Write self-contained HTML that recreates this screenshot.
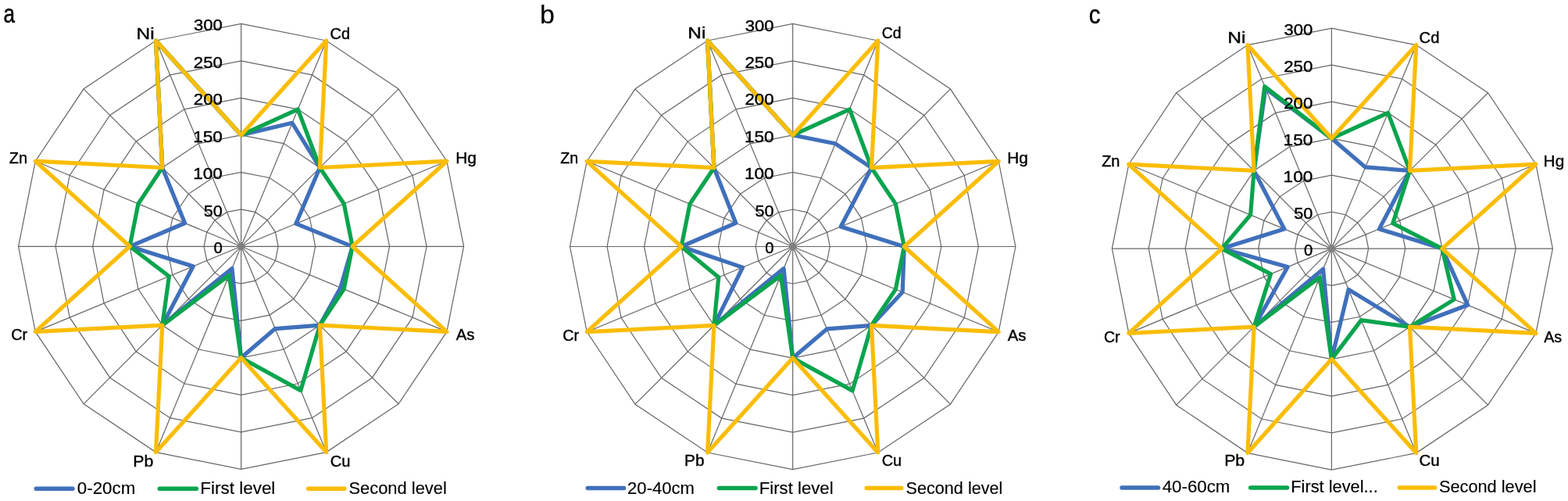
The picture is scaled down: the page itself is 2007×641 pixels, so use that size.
<!DOCTYPE html>
<html><head><meta charset="utf-8"><title>Radar charts</title>
<style>
html,body{margin:0;padding:0;background:#fff;}
body{width:2007px;height:641px;overflow:hidden;}
svg{display:block;}
text{font-family:"Liberation Sans",sans-serif;fill:#000;}
.t{stroke:#000;stroke-width:0.4px;}
.L{stroke:#000;stroke-width:0.5px;}
.M{stroke:#000;stroke-width:0.2px;}
.lg{stroke:#000;stroke-width:0.15px;}
.g{fill:none;stroke:#666666;stroke-width:1.2;}
.s{fill:none;stroke-width:5.2;stroke-linejoin:round;stroke-linecap:round;}
</style></head><body>
<svg width="2007" height="641" viewBox="0 0 2007 641">
<rect width="2007" height="641" fill="#fff"/>

<g>
<polygon class="g" points="308.6,267.8 326.8,271.4 342.2,281.7 352.5,297.1 356.1,315.3 352.5,333.5 342.2,348.9 326.8,359.2 308.6,362.8 290.4,359.2 275.0,348.9 264.7,333.5 261.1,315.3 264.7,297.1 275.0,281.7 290.4,271.4"/>
<polygon class="g" points="308.6,220.3 345.0,227.5 375.8,248.1 396.4,278.9 403.6,315.3 396.4,351.7 375.8,382.5 345.0,403.1 308.6,410.3 272.2,403.1 241.4,382.5 220.8,351.7 213.6,315.3 220.8,278.9 241.4,248.1 272.2,227.5"/>
<polygon class="g" points="308.6,172.8 363.1,183.6 409.4,214.5 440.3,260.8 451.1,315.3 440.3,369.8 409.4,416.1 363.1,447.0 308.6,457.8 254.1,447.0 207.8,416.1 176.9,369.8 166.1,315.3 176.9,260.8 207.8,214.5 254.1,183.6"/>
<polygon class="g" points="308.6,125.3 381.3,139.8 443.0,180.9 484.1,242.6 498.6,315.3 484.1,388.0 443.0,449.7 381.3,490.8 308.6,505.3 235.9,490.8 174.2,449.7 133.1,388.0 118.6,315.3 133.1,242.6 174.2,180.9 235.9,139.8"/>
<polygon class="g" points="308.6,77.8 399.5,95.9 476.5,147.4 528.0,224.4 546.1,315.3 528.0,406.2 476.5,483.2 399.5,534.7 308.6,552.8 217.7,534.7 140.7,483.2 89.2,406.2 71.1,315.3 89.2,224.4 140.7,147.4 217.7,95.9"/>
<polygon class="g" points="308.6,30.3 417.7,52.0 510.1,113.8 571.9,206.2 593.6,315.3 571.9,424.4 510.1,516.8 417.7,578.6 308.6,600.3 199.5,578.6 107.1,516.8 45.3,424.4 23.6,315.3 45.3,206.2 107.1,113.8 199.5,52.0"/>
<path class="g" d="M308.6 315.3L308.6 30.3M308.6 315.3L417.7 52.0M308.6 315.3L510.1 113.8M308.6 315.3L571.9 206.2M308.6 315.3L593.6 315.3M308.6 315.3L571.9 424.4M308.6 315.3L510.1 516.8M308.6 315.3L417.7 578.6M308.6 315.3L308.6 600.3M308.6 315.3L199.5 578.6M308.6 315.3L107.1 516.8M308.6 315.3L45.3 424.4M308.6 315.3L23.6 315.3M308.6 315.3L45.3 206.2M308.6 315.3L107.1 113.8M308.6 315.3L199.5 52.0"/>
<path d="M302.6 315.3L308.6 309.3L314.6 315.3L308.6 321.3Z" fill="#808080"/>
<polygon class="s" stroke="#4070BB" points="308.6,172.8 374.0,157.3 409.4,214.5 378.8,286.2 451.1,315.3 435.9,368.0 409.4,416.1 352.2,420.6 308.6,457.8 297.0,343.4 207.8,416.1 247.2,340.7 166.1,315.3 236.6,285.5 207.8,214.5 199.5,52.0"/>
<polygon class="s" stroke="#0AA44E" points="308.6,172.8 381.3,139.8 409.4,214.5 440.3,260.8 451.1,315.3 440.3,369.8 409.4,416.1 384.9,499.6 308.6,457.8 293.3,352.2 207.8,416.1 216.4,353.5 166.1,315.3 176.9,260.8 207.8,214.5 199.5,52.0"/>
<polygon class="s" stroke="#FABD06" points="308.6,172.8 417.7,52.0 409.4,214.5 571.9,206.2 451.1,315.3 571.9,424.4 409.4,416.1 417.7,578.6 308.6,457.8 199.5,578.6 207.8,416.1 45.3,424.4 166.1,315.3 45.3,206.2 207.8,214.5 199.5,52.0"/>
<text class="t" transform="translate(273.51 324.00) scale(0.9996 1)" font-size="20.3">0</text>
<text class="t" transform="translate(260.73 276.55) scale(1.0680 1)" font-size="20.3">50</text>
<text class="t" transform="translate(247.18 229.10) scale(1.1132 1)" font-size="20.3">100</text>
<text class="t" transform="translate(247.18 181.65) scale(1.1132 1)" font-size="20.3">150</text>
<text class="t" transform="translate(247.78 134.20) scale(1.0950 1)" font-size="20.3">200</text>
<text class="t" transform="translate(247.78 86.75) scale(1.0950 1)" font-size="20.3">250</text>
<text class="t" transform="translate(248.06 39.30) scale(1.0866 1)" font-size="20.3">300</text>
<text class="t" transform="translate(422.59 49.70) scale(0.9683 1)" font-size="20.6">Cd</text>
<text class="t" transform="translate(583.18 209.20) scale(1.0165 1)" font-size="20.6">Hg</text>
<text class="t" transform="translate(583.66 435.40) scale(0.9890 1)" font-size="20.6">As</text>
<text class="t" transform="translate(422.68 596.80) scale(0.9783 1)" font-size="20.6">Cu</text>
<text class="t" transform="translate(170.35 596.80) scale(1.0335 1)" font-size="20.6">Pb</text>
<text class="t" transform="translate(14.29 435.40) scale(0.9632 1)" font-size="20.6">Cr</text>
<text class="t" transform="translate(11.77 209.00) scale(0.9706 1)" font-size="20.6">Zn</text>
<text class="t" transform="translate(174.60 49.60) scale(1.1847 1)" font-size="20.6">Ni</text>
<line x1="46.2" y1="625.2" x2="93.0" y2="625.2" stroke-width="5.5" stroke-linecap="round" stroke="#4070BB"/>
<text class="lg" transform="translate(98.83 631.60) scale(1.0336 1)" font-size="21.6">0-20cm</text>
<line x1="204.3" y1="625.2" x2="251.4" y2="625.2" stroke-width="5.5" stroke-linecap="round" stroke="#0AA44E"/>
<text class="lg" transform="translate(256.36 631.60) scale(1.0393 1)" font-size="21.6">First level</text>
<line x1="394.6" y1="625.2" x2="440.8" y2="625.2" stroke-width="5.5" stroke-linecap="round" stroke="#FABD06"/>
<text class="lg" transform="translate(446.41 631.60) scale(1.0144 1)" font-size="21.6">Second level</text>
<text class="L" transform="translate(4.59 29.40) scale(0.8027 1)" font-size="32.5">a</text>
</g>
<g>
<polygon class="g" points="1014.7,268.0 1032.9,271.6 1048.3,281.9 1058.6,297.3 1062.2,315.5 1058.6,333.7 1048.3,349.1 1032.9,359.4 1014.7,363.0 996.5,359.4 981.1,349.1 970.8,333.7 967.2,315.5 970.8,297.3 981.1,281.9 996.5,271.6"/>
<polygon class="g" points="1014.7,220.4 1051.1,227.7 1081.9,248.3 1102.5,279.1 1109.8,315.5 1102.5,351.9 1081.9,382.7 1051.1,403.3 1014.7,410.6 978.3,403.3 947.5,382.7 926.9,351.9 919.6,315.5 926.9,279.1 947.5,248.3 978.3,227.7"/>
<polygon class="g" points="1014.7,172.9 1069.3,183.8 1115.5,214.7 1146.4,260.9 1157.3,315.5 1146.4,370.1 1115.5,416.3 1069.3,447.2 1014.7,458.1 960.1,447.2 913.9,416.3 883.0,370.1 872.1,315.5 883.0,260.9 913.9,214.7 960.1,183.8"/>
<polygon class="g" points="1014.7,125.4 1087.5,139.8 1149.1,181.1 1190.4,242.7 1204.8,315.5 1190.4,388.3 1149.1,449.9 1087.5,491.2 1014.7,505.6 941.9,491.2 880.3,449.9 839.0,388.3 824.6,315.5 839.0,242.7 880.3,181.1 941.9,139.8"/>
<polygon class="g" points="1014.7,77.8 1105.7,95.9 1182.8,147.4 1234.3,224.5 1252.4,315.5 1234.3,406.5 1182.8,483.6 1105.7,535.1 1014.7,553.2 923.7,535.1 846.6,483.6 795.1,406.5 777.0,315.5 795.1,224.5 846.6,147.4 923.7,95.9"/>
<polygon class="g" points="1014.7,30.3 1123.8,52.0 1216.4,113.8 1278.2,206.4 1299.9,315.5 1278.2,424.6 1216.4,517.2 1123.8,579.0 1014.7,600.7 905.6,579.0 813.0,517.2 751.2,424.6 729.5,315.5 751.2,206.4 813.0,113.8 905.6,52.0"/>
<path class="g" d="M1014.7 315.5L1014.7 30.3M1014.7 315.5L1123.8 52.0M1014.7 315.5L1216.4 113.8M1014.7 315.5L1278.2 206.4M1014.7 315.5L1299.9 315.5M1014.7 315.5L1278.2 424.6M1014.7 315.5L1216.4 517.2M1014.7 315.5L1123.8 579.0M1014.7 315.5L1014.7 600.7M1014.7 315.5L905.6 579.0M1014.7 315.5L813.0 517.2M1014.7 315.5L751.2 424.6M1014.7 315.5L729.5 315.5M1014.7 315.5L751.2 206.4M1014.7 315.5L813.0 113.8M1014.7 315.5L905.6 52.0"/>
<path d="M1008.7 315.5L1014.7 309.5L1020.7 315.5L1014.7 321.5Z" fill="#808080"/>
<polygon class="s" stroke="#4070BB" points="1014.7,172.9 1069.3,183.8 1115.5,214.7 1076.2,290.0 1157.3,315.5 1155.2,373.7 1115.5,416.3 1058.4,420.9 1014.7,458.1 1003.1,343.6 913.9,416.3 950.6,342.1 872.1,315.5 941.8,285.3 913.9,214.7 905.6,52.0"/>
<polygon class="s" stroke="#0AA44E" points="1014.7,172.9 1087.5,139.8 1115.5,214.7 1146.4,260.9 1157.3,315.5 1146.4,370.1 1115.5,416.3 1091.1,499.9 1014.7,458.1 999.4,352.4 913.9,416.3 919.8,354.8 872.1,315.5 883.0,260.9 913.9,214.7 905.6,52.0"/>
<polygon class="s" stroke="#FABD06" points="1014.7,172.9 1123.8,52.0 1115.5,214.7 1278.2,206.4 1157.3,315.5 1278.2,424.6 1115.5,416.3 1123.8,579.0 1014.7,458.1 905.6,579.0 913.9,416.3 751.2,424.6 872.1,315.5 751.2,206.4 913.9,214.7 905.6,52.0"/>
<text class="t" transform="translate(979.21 324.20) scale(0.9996 1)" font-size="20.3">0</text>
<text class="t" transform="translate(966.43 276.75) scale(1.0680 1)" font-size="20.3">50</text>
<text class="t" transform="translate(952.88 229.30) scale(1.1132 1)" font-size="20.3">100</text>
<text class="t" transform="translate(952.88 181.85) scale(1.1132 1)" font-size="20.3">150</text>
<text class="t" transform="translate(953.48 134.40) scale(1.0950 1)" font-size="20.3">200</text>
<text class="t" transform="translate(953.48 86.95) scale(1.0950 1)" font-size="20.3">250</text>
<text class="t" transform="translate(953.76 39.50) scale(1.0866 1)" font-size="20.3">300</text>
<text class="t" transform="translate(1128.76 48.50) scale(0.9453 1)" font-size="20.6">Cd</text>
<text class="t" transform="translate(1289.18 209.20) scale(1.0165 1)" font-size="20.6">Hg</text>
<text class="t" transform="translate(1289.66 435.60) scale(0.9890 1)" font-size="20.6">As</text>
<text class="t" transform="translate(1128.69 596.00) scale(0.9699 1)" font-size="20.6">Cu</text>
<text class="t" transform="translate(875.99 596.00) scale(1.0114 1)" font-size="20.6">Pb</text>
<text class="t" transform="translate(720.29 435.60) scale(0.9632 1)" font-size="20.6">Cr</text>
<text class="t" transform="translate(717.28 209.00) scale(0.9524 1)" font-size="20.6">Zn</text>
<text class="t" transform="translate(880.30 48.50) scale(1.1847 1)" font-size="20.6">Ni</text>
<line x1="752.2" y1="624.5" x2="798.5" y2="624.5" stroke-width="5.5" stroke-linecap="round" stroke="#4070BB"/>
<text class="lg" transform="translate(803.09 631.60) scale(1.0217 1)" font-size="21.6">20-40cm</text>
<line x1="920.4" y1="624.5" x2="967.1" y2="624.5" stroke-width="5.5" stroke-linecap="round" stroke="#0AA44E"/>
<text class="lg" transform="translate(971.68 631.60) scale(1.0281 1)" font-size="21.6">First level</text>
<line x1="1109.2" y1="624.5" x2="1153.8" y2="624.5" stroke-width="5.5" stroke-linecap="round" stroke="#FABD06"/>
<text class="lg" transform="translate(1159.52 631.60) scale(1.0020 1)" font-size="21.6">Second level</text>
<text class="M" x="691.01" y="30.00" font-size="34">b</text>
</g>
<g>
<polygon class="g" points="1704.4,271.1 1722.4,274.7 1737.8,284.9 1748.0,300.1 1751.6,318.1 1748.0,336.1 1737.8,351.5 1722.4,361.7 1704.4,365.3 1686.5,361.7 1671.3,351.5 1661.1,336.1 1657.6,318.1 1661.1,300.1 1671.3,284.9 1686.5,274.7"/>
<polygon class="g" points="1704.4,224.1 1740.5,231.3 1771.1,251.6 1791.6,282.1 1798.7,318.1 1791.6,354.2 1771.1,384.8 1740.5,405.3 1704.4,412.4 1668.6,405.3 1638.2,384.8 1617.9,354.2 1610.7,318.1 1617.9,282.1 1638.2,251.6 1668.6,231.3"/>
<polygon class="g" points="1704.4,177.1 1758.5,187.8 1804.5,218.4 1835.1,264.1 1845.9,318.1 1835.1,372.2 1804.5,418.2 1758.5,448.8 1704.4,459.6 1650.6,448.8 1605.1,418.2 1574.6,372.2 1563.9,318.1 1574.6,264.1 1605.1,218.4 1650.6,187.8"/>
<polygon class="g" points="1704.4,130.1 1776.6,144.4 1837.8,185.2 1878.7,246.2 1893.1,318.1 1878.7,390.3 1837.8,451.5 1776.6,492.4 1704.4,506.8 1632.7,492.4 1571.9,451.5 1531.3,390.3 1517.1,318.1 1531.3,246.2 1571.9,185.2 1632.7,144.4"/>
<polygon class="g" points="1704.4,83.1 1794.6,101.0 1871.2,151.9 1922.3,228.2 1940.2,318.1 1922.3,408.3 1871.2,484.9 1794.6,536.0 1704.4,553.9 1614.8,536.0 1538.8,484.9 1488.1,408.3 1470.2,318.1 1488.1,228.2 1538.8,151.9 1614.8,101.0"/>
<polygon class="g" points="1704.4,36.1 1812.7,57.6 1904.5,118.7 1965.9,210.2 1987.4,318.1 1965.9,426.4 1904.5,518.2 1812.7,579.6 1704.4,601.1 1596.9,579.6 1505.7,518.2 1444.8,426.4 1423.4,318.1 1444.8,210.2 1505.7,118.7 1596.9,57.6"/>
<path class="g" d="M1704.4 318.1L1704.4 36.1M1704.4 318.1L1812.7 57.6M1704.4 318.1L1904.5 118.7M1704.4 318.1L1965.9 210.2M1704.4 318.1L1987.4 318.1M1704.4 318.1L1965.9 426.4M1704.4 318.1L1904.5 518.2M1704.4 318.1L1812.7 579.6M1704.4 318.1L1704.4 601.1M1704.4 318.1L1596.9 579.6M1704.4 318.1L1505.7 518.2M1704.4 318.1L1444.8 426.4M1704.4 318.1L1423.4 318.1M1704.4 318.1L1444.8 210.2M1704.4 318.1L1505.7 118.7M1704.4 318.1L1596.9 57.6"/>
<path d="M1698.4 318.1L1704.4 312.1L1710.4 318.1L1704.4 324.1Z" fill="#808080"/>
<polygon class="s" stroke="#4070BB" points="1704.4,177.1 1747.7,213.9 1804.5,218.4 1765.4,292.9 1845.9,318.1 1878.7,390.3 1804.5,418.2 1726.1,370.4 1704.4,459.6 1693.6,344.2 1605.1,418.2 1648.2,341.6 1563.9,318.1 1643.8,292.9 1605.1,218.4 1619.8,113.1"/>
<polygon class="s" stroke="#0AA44E" points="1704.4,177.1 1776.6,144.4 1804.5,218.4 1782.8,285.7 1845.9,318.1 1861.3,383.1 1804.5,418.2 1742.3,409.6 1704.4,459.6 1689.3,354.7 1605.1,418.2 1626.5,350.6 1563.9,318.1 1600.6,274.9 1605.1,218.4 1618.7,110.5"/>
<polygon class="s" stroke="#FABD06" points="1704.4,177.1 1812.7,57.6 1804.5,218.4 1965.9,210.2 1845.9,318.1 1965.9,426.4 1804.5,418.2 1812.7,579.6 1704.4,459.6 1596.9,579.6 1605.1,418.2 1444.8,426.4 1563.9,318.1 1444.8,210.2 1605.1,218.4 1596.9,57.6"/>
<text class="t" transform="translate(1668.91 326.90) scale(0.9996 1)" font-size="20.3">0</text>
<text class="t" transform="translate(1656.13 279.85) scale(1.0680 1)" font-size="20.3">50</text>
<text class="t" transform="translate(1642.58 232.80) scale(1.1132 1)" font-size="20.3">100</text>
<text class="t" transform="translate(1642.58 185.75) scale(1.1132 1)" font-size="20.3">150</text>
<text class="t" transform="translate(1643.18 138.70) scale(1.0950 1)" font-size="20.3">200</text>
<text class="t" transform="translate(1643.18 91.65) scale(1.0950 1)" font-size="20.3">250</text>
<text class="t" transform="translate(1643.46 44.60) scale(1.0866 1)" font-size="20.3">300</text>
<text class="t" transform="translate(1816.57 55.10) scale(0.9808 1)" font-size="20.6">Cd</text>
<text class="t" transform="translate(1975.59 213.00) scale(1.0122 1)" font-size="20.6">Hg</text>
<text class="t" transform="translate(1976.26 438.00) scale(0.9546 1)" font-size="20.6">As</text>
<text class="t" transform="translate(1816.56 595.90) scale(0.9950 1)" font-size="20.6">Cu</text>
<text class="t" transform="translate(1567.15 595.90) scale(1.0335 1)" font-size="20.6">Pb</text>
<text class="t" transform="translate(1412.90 438.00) scale(0.9534 1)" font-size="20.6">Cr</text>
<text class="t" transform="translate(1410.17 213.00) scale(0.9706 1)" font-size="20.6">Zn</text>
<text class="t" transform="translate(1571.29 55.10) scale(1.1908 1)" font-size="20.6">Ni</text>
<line x1="1436.0" y1="624.1" x2="1482.5" y2="624.1" stroke-width="5.5" stroke-linecap="round" stroke="#4070BB"/>
<text class="lg" transform="translate(1487.69 630.10) scale(1.0327 1)" font-size="21.6">40-60cm</text>
<line x1="1600.7" y1="624.1" x2="1647.5" y2="624.1" stroke-width="5.5" stroke-linecap="round" stroke="#0AA44E"/>
<text class="lg" transform="translate(1652.31 630.10) scale(1.0096 1)" font-size="21.6">First level...</text>
<line x1="1791.2" y1="624.1" x2="1836.5" y2="624.1" stroke-width="5.5" stroke-linecap="round" stroke="#FABD06"/>
<text class="lg" transform="translate(1841.91 630.10) scale(1.0078 1)" font-size="21.6">Second level</text>
<text class="L" transform="translate(1393.85 29.80) scale(0.8926 1)" font-size="33">c</text>
</g>
</svg></body></html>
